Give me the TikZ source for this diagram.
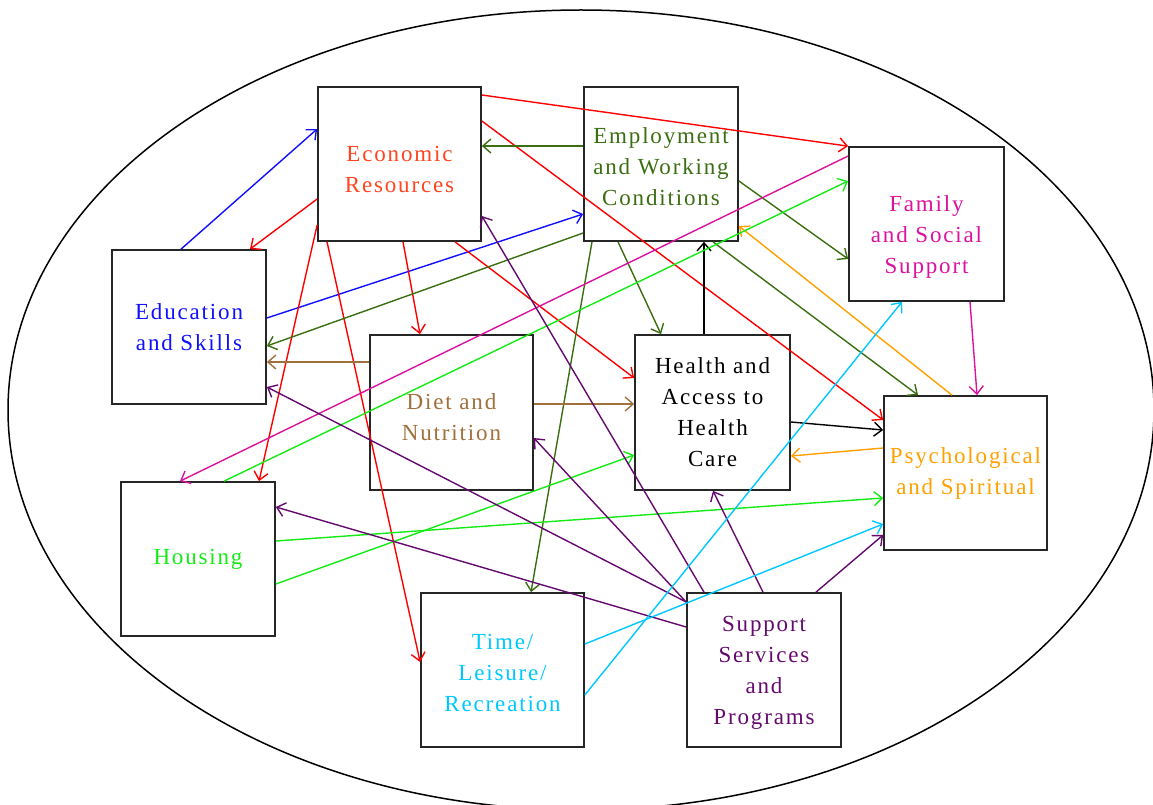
\documentclass[tikz,border=0pt]{standalone}
\usepackage{fontspec}
\setmainfont{Liberation Serif}
\usetikzlibrary{arrows.meta,calc}
\definecolor{ecoT}{RGB}{255,69,32}
\definecolor{ecoL}{RGB}{255,0,0}
\definecolor{empC}{RGB}{59,110,17}
\definecolor{famC}{RGB}{218,18,158}
\definecolor{eduC}{RGB}{16,16,255}
\definecolor{dietC}{RGB}{160,112,60}
\definecolor{psyC}{RGB}{255,160,0}
\definecolor{houC}{RGB}{20,235,20}
\definecolor{timC}{RGB}{0,200,255}
\definecolor{supC}{RGB}{100,10,110}
\newfontfamily\lblfont[LetterSpace=8]{Liberation Serif}
\tikzset{
  lbl/.style={align=center, inner sep=0pt, font=\lblfont\fontsize{23}{31}\selectfont},
  box/.style={draw=black!85, line width=1.7pt, minimum width=154pt, minimum height=154pt, lbl},
  wbox/.style={box, minimum width=163pt},
  conn/.style={line width=1.4pt, -{Straight Barb[length=8pt,width=14pt]}}
}
\begin{document}
\begin{tikzpicture}[x=1pt,y=-1pt]
\useasboundingbox (0,0) rectangle (1153,805);
\clip (0,0) rectangle (1153,805);
\draw[line width=1.5pt] (581,410) ellipse [x radius=573, y radius=400];
% boxes
\node[wbox, label={[lbl, text=ecoT, yshift=-5pt]center:Economic\\Resources}] (eco) at (399.5,164) {};
\node[box, label={[lbl, text=empC, yshift=-3pt]center:Employment\\and Working\\Conditions}] (emp) at (661,164) {};
\node[box, minimum width=155pt, label={[lbl, text=famC, yshift=-13pt]center:Family\\and Social\\Support}] (fam) at (926.5,224) {};
\node[box, text=eduC] (edu) at (189,327) {Education\\and Skills};
\node[wbox, minimum height=155pt, label={[lbl, text=dietC, yshift=-5pt]center:Diet and\\Nutrition}] (diet) at (451.5,412.5) {};
\node[box, minimum width=155pt, minimum height=155pt, text=black] (hea) at (712.5,412.5) {Health and\\Access to\\Health\\Care};
\node[wbox, text=psyC] (psy) at (965.5,473) {Psychological\\and Spiritual};
\node[box, text=houC] (hou) at (198,559) {Housing};
\node[wbox, label={[lbl, text=timC, yshift=-3pt]center:Time/\\Leisure/\\Recreation}] (tim) at (502.5,670) {};
\node[box, label={[lbl, text=supC, yshift=-3pt]center:Support\\Services\\and\\Programs}] (sup) at (764,670) {};
% blue
\draw[conn, eduC] ([xshift=-8pt]edu.north) -- ([yshift=35pt]eco.west);
\draw[conn, eduC] ([yshift=9pt]edu.east) -- ([yshift=-50pt]emp.west);
% red
\draw[conn, ecoL] ([yshift=-35pt]eco.west) -- ([xshift=61pt]edu.north);
\draw[conn, ecoL] ([yshift=-61pt]eco.west) -- ([xshift=61pt]hou.north);
\draw[conn, ecoL] ([xshift=-72.5pt]eco.south) -- ([yshift=8pt]tim.west);
\draw[conn, ecoL] ([xshift=3.5pt]eco.south) -- ([xshift=-31.5pt]diet.north);
\draw[conn, ecoL] ([xshift=55.5pt]eco.south) -- ([yshift=34.5pt]hea.west);
\draw[conn, ecoL] ([yshift=43pt]eco.east) -- ([yshift=53pt]psy.west);
\draw[conn, ecoL] ([yshift=69pt]eco.east) -- (fam.north west);
% dark green
\draw[conn, empC] ([yshift=18pt]emp.west) -- ([yshift=18pt]eco.east);
\draw[conn, empC] ([yshift=-69pt]emp.west) -- ([yshift=-19pt]edu.east);
\draw[conn, empC] ([xshift=-69pt]emp.south) -- ([xshift=28.5pt]tim.north);
\draw[conn, empC] ([xshift=-43pt]emp.south) -- ([xshift=-51.5pt]hea.north);
\draw[conn, empC] ([yshift=-17pt]emp.east) -- ([yshift=-35pt]fam.west);
\draw[conn, empC] ([xshift=52pt]emp.south) -- ([xshift=-47.5pt]psy.north);
% black
\draw[conn, black] ([xshift=-8.5pt]hea.north) -- ([xshift=43pt]emp.south);
\draw[conn, black] ([yshift=-9.5pt]hea.east) -- ([yshift=43pt]psy.west);
% orange
\draw[conn, psyC] ([yshift=25pt]psy.west) -- ([yshift=-43.5pt]hea.east);
\draw[conn, psyC] ([xshift=-13.5pt]psy.north) -- ([yshift=-62pt]emp.east);
% magenta
\draw[conn, famC] ([xshift=43.5pt]fam.south) -- ([xshift=11.5pt]psy.north);
\draw[conn, famC] ([yshift=68pt]fam.west) -- ([xshift=-18pt]hou.north);
% green
\draw[conn, houC] ([xshift=26pt]hou.north) -- ([yshift=43pt]fam.west);
\draw[conn, houC] ([yshift=18pt]hou.east) -- ([yshift=-25pt]psy.west);
\draw[conn, houC] ([yshift=-25pt]hou.east) -- ([yshift=-42.5pt]hea.west);
% brown
\draw[conn, dietC] ([yshift=50.5pt]diet.west) -- ([yshift=-35pt]edu.east);
\draw[conn, dietC] ([yshift=8.5pt]diet.east) -- ([yshift=8.5pt]hea.west);
% purple
\draw[conn, supC] ([xshift=-60pt]sup.north) -- ([yshift=-52pt]eco.east);
\draw[conn, supC] ([yshift=68pt]sup.west) -- ([yshift=-25.5pt]diet.east);
\draw[conn, supC] ([yshift=68pt]sup.west) -- ([yshift=-60pt]edu.east);
\draw[conn, supC] ([yshift=43pt]sup.west) -- ([yshift=52pt]hou.east);
\draw[conn, supC] ([xshift=-1pt]sup.north) -- ([xshift=0.5pt]hea.south);
\draw[conn, supC] ([xshift=52pt]sup.north) -- ([yshift=-62pt]psy.west);
% cyan
\draw[conn, timC] ([yshift=-25pt]tim.east) -- ([xshift=-24.5pt]fam.south);
\draw[conn, timC] ([yshift=26pt]tim.east) -- ([yshift=-51pt]psy.west);
\end{tikzpicture}
\end{document}
